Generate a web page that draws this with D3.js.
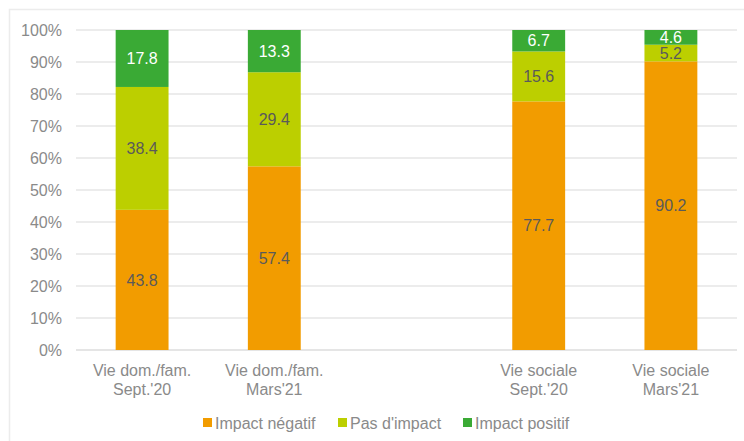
<!DOCTYPE html>
<html>
<head>
<meta charset="utf-8">
<script src="https://cdn.jsdelivr.net/npm/d3@7"></script>
<style>
  body { margin: 0; background: #fff; }
  svg { display: block; font-family: 'Liberation Sans', Arial, sans-serif; }
</style>
</head>
<body>
<div id="chart"></div>
<script>
// categories (the empty one makes the gap between the two groups)
const categories = ['domSept', 'domMars', 'gap', 'socSept', 'socMars'];
const categoryLines = {
  domSept: ['Vie dom./fam.', "Sept.'20"],
  domMars: ['Vie dom./fam.', "Mars'21"],
  gap: [],
  socSept: ['Vie sociale', "Sept.'20"],
  socMars: ['Vie sociale', "Mars'21"],
};
const barCategories = ['domSept', 'domMars', 'socSept', 'socMars'];

const seriesNames = ['Impact négatif', "Pas d'impact", 'Impact positif'];
const impactNegatif = [43.8, 57.4, 77.7, 90.2];
const pasDImpact = [38.4, 29.4, 15.6, 5.2];
const impactPositif = [17.8, 13.3, 6.7, 4.6];

const yTicks = [0, 10, 20, 30, 40, 50, 60, 70, 80, 90, 100];

const makePlot = () => {
  const container = d3.select('#chart');
  container.selectAll('*').remove();

  const size = { width: 744, height: 441 };
  const margin = { top: 30, right: 7, bottom: 91, left: 76 };

  const svg = container.append('svg')
    .attr('width', size.width)
    .attr('height', size.height);

  // outer frame
  svg.append('rect')
    .attr('x', 9.5)
    .attr('y', 9.5)
    .attr('width', size.width + 20)
    .attr('height', size.height + 20)
    .attr('fill', 'none')
    .attr('stroke', '#ececec')
    .attr('stroke-width', 1.5);

  const x = d3.scaleBand()
    .domain(categories)
    .range([margin.left, size.width - margin.right])
    .paddingInner(0.6)
    .paddingOuter(0.3);

  const y = d3.scaleLinear()
    .domain([0, 100])
    .range([size.height - margin.bottom, margin.top]);

  const colors = d3.scaleOrdinal()
    .domain(seriesNames)
    .range(['#f29c00', '#bccf00', '#3aaa35']);
  const labelColors = ['#5a5a5a', '#5a5a5a', '#ffffff'];

  // gridlines
  svg.append('g')
    .selectAll('line')
    .data(yTicks)
    .enter()
    .append('line')
    .attr('x1', margin.left)
    .attr('x2', size.width - margin.right)
    .attr('y1', (d) => y(d))
    .attr('y2', (d) => y(d))
    .attr('stroke', (d) => (d === 0 ? '#dcdcdc' : '#e6e6e6'))
    .attr('stroke-width', 1.5);

  // y labels
  svg.append('g')
    .selectAll('text')
    .data(yTicks)
    .enter()
    .append('text')
    .text((d) => `${d}%`)
    .attr('x', 62)
    .attr('y', (d) => y(d))
    .attr('dy', '0.35em')
    .attr('text-anchor', 'end')
    .style('font-size', '16px')
    .attr('fill', '#8a8a8a');

  // stacked bars
  const rows = barCategories.map((c, i) => ({
    cat: c,
    [seriesNames[0]]: impactNegatif[i],
    [seriesNames[1]]: pasDImpact[i],
    [seriesNames[2]]: impactPositif[i],
  }));
  const stacked = d3.stack().keys(seriesNames)(rows);

  const layers = svg.append('g')
    .selectAll('g')
    .data(stacked)
    .enter()
    .append('g')
    .attr('fill', (d) => colors(d.key));

  layers.selectAll('rect')
    .data((d) => d)
    .enter()
    .append('rect')
    .attr('x', (d) => x(d.data.cat))
    .attr('width', x.bandwidth())
    .attr('y', (d) => y(Math.min(d[1], 100)))
    .attr('height', (d) => y(d[0]) - y(Math.min(d[1], 100)));

  // value labels
  layers.selectAll('text')
    .data((d, i) => d.map((v) => ({ v, i, key: d.key })))
    .enter()
    .append('text')
    .text((d) => d.v.data[d.key].toFixed(1))
    .attr('x', (d) => x(d.v.data.cat) + x.bandwidth() / 2)
    .attr('y', (d) => y((d.v[0] + Math.min(d.v[1], 100)) / 2))
    .attr('dy', '0.35em')
    .attr('text-anchor', 'middle')
    .style('font-size', '16px')
    .attr('fill', (d) => labelColors[d.i]);

  // x labels
  const xLab = svg.append('g')
    .selectAll('text')
    .data(categories)
    .enter()
    .append('text')
    .attr('text-anchor', 'middle')
    .style('font-size', '16px')
    .attr('fill', '#8a8a8a');

  xLab.selectAll('tspan')
    .data((c) => categoryLines[c].map((t) => ({ t, c })))
    .enter()
    .append('tspan')
    .text((d) => d.t)
    .attr('x', (d) => x(d.c) + x.bandwidth() / 2)
    .attr('y', (d, i) => 376 + i * 19);

  // legend
  const legendX = [203, 338, 463];
  const legend = svg.append('g')
    .selectAll('g')
    .data(seriesNames)
    .enter()
    .append('g')
    .attr('transform', (d, i) => `translate(${legendX[i]}, 423)`);

  legend.append('rect')
    .attr('x', 0)
    .attr('y', -5)
    .attr('width', 9)
    .attr('height', 9)
    .attr('fill', (d) => colors(d));

  legend.append('text')
    .text((d) => d)
    .attr('x', 12)
    .attr('y', 0)
    .attr('dy', '0.35em')
    .style('font-size', '16px')
    .attr('fill', '#8a8a8a');
};

makePlot();
</script>
</body>
</html>
